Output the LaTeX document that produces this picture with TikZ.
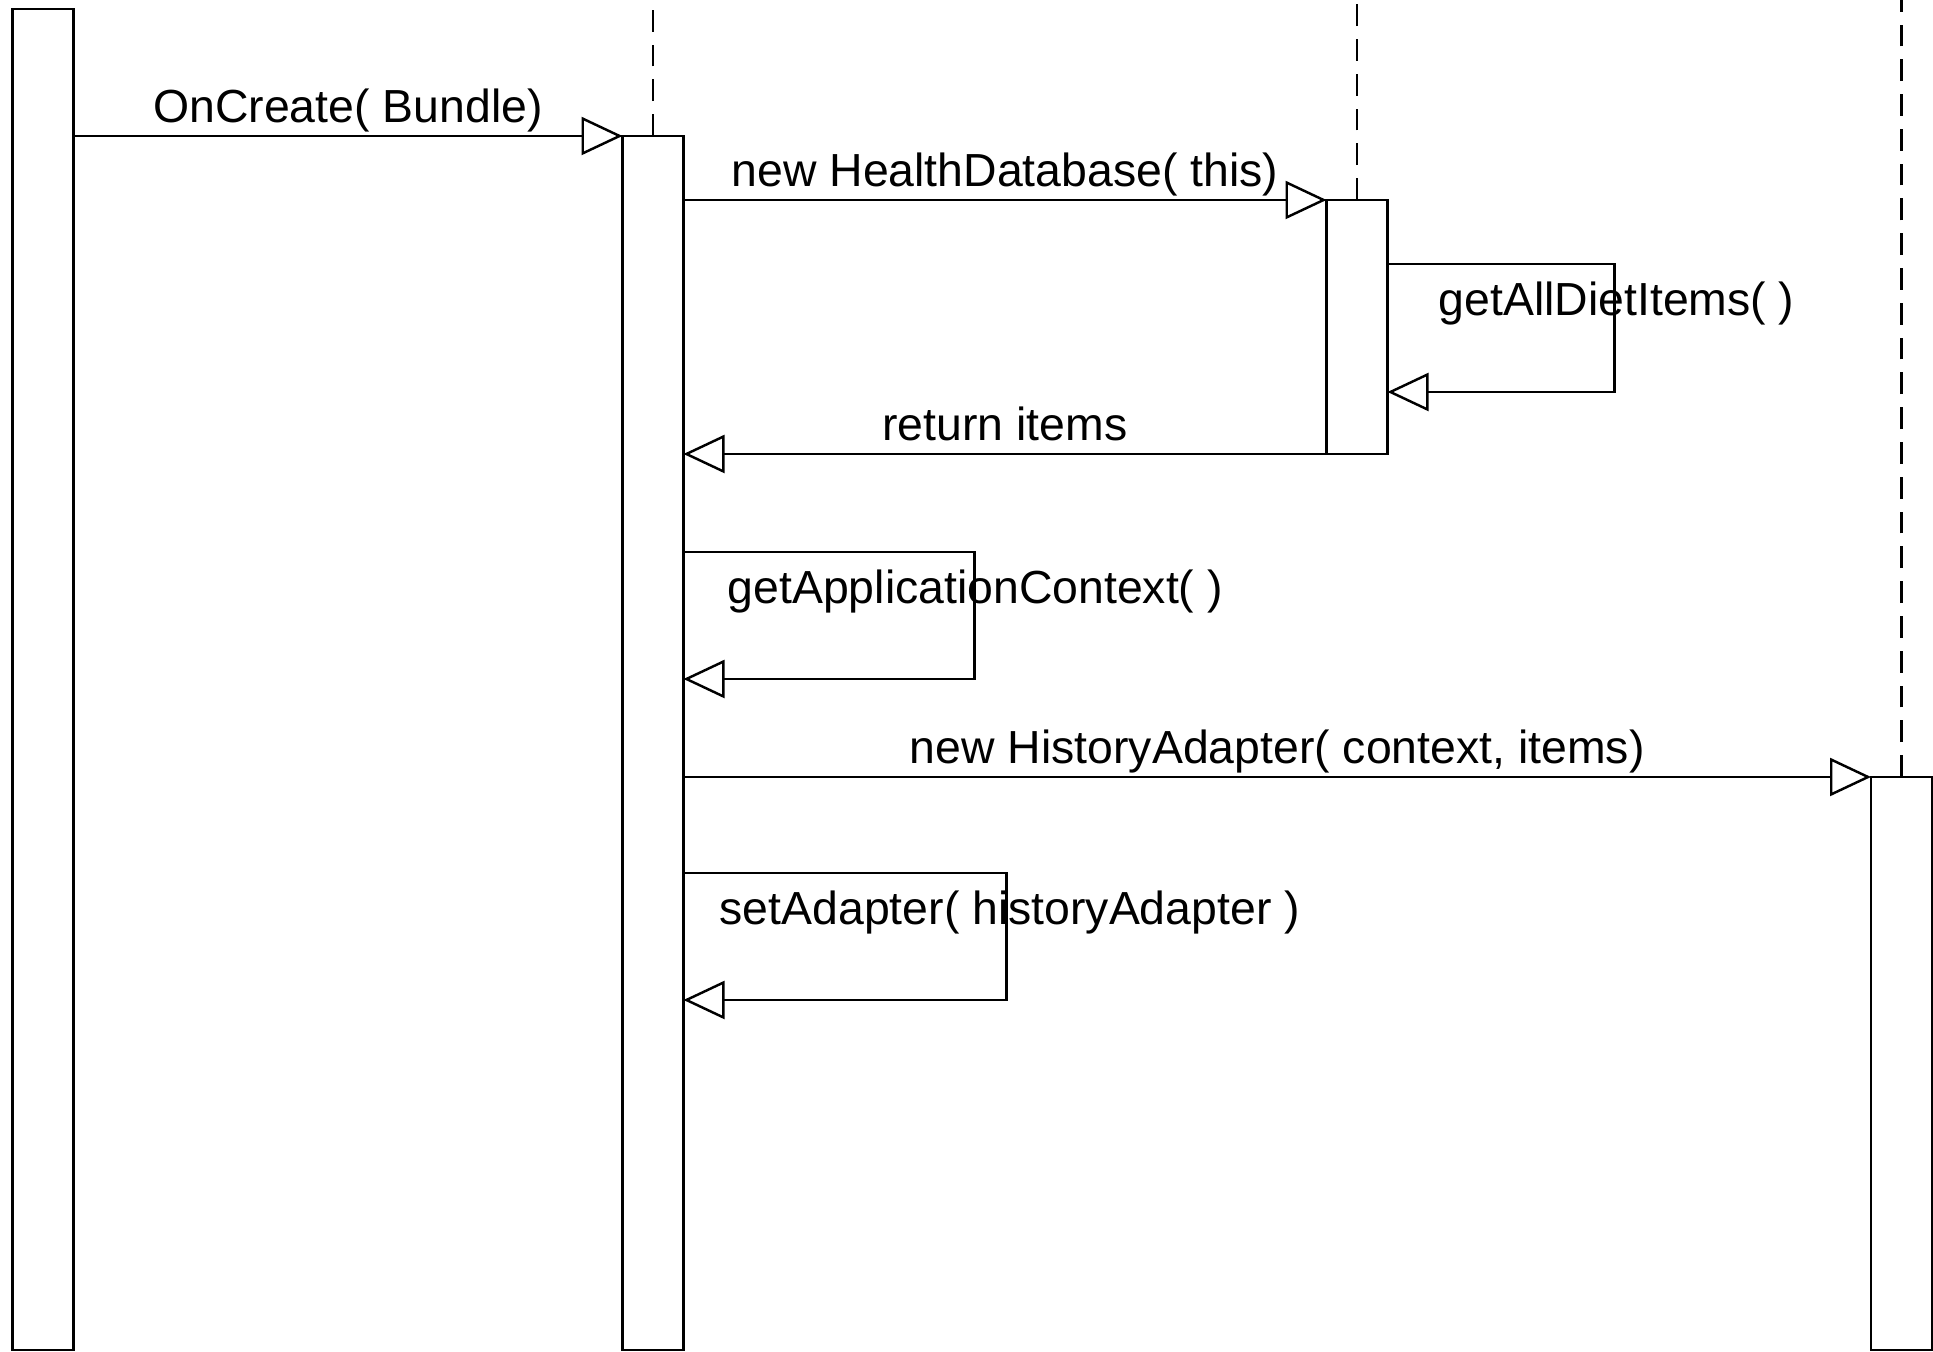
\documentclass[tikz,border=0pt]{standalone}
\usepackage{fontspec}
\setmainfont{Liberation Sans}
\usetikzlibrary{arrows.meta, calc}
\tikzset{msg labels/.style={font=\fontsize{13.2}{15}\selectfont}}
\tikzset{bar/.style={draw,rectangle,minimum width=0.61cm,inner sep=0pt,outer sep=0pt}}
\tikzset{lifeline/.style={dash pattern=on 6.2pt off 3.7pt}}
\tikzset{msg/.style={-{Triangle[open,length=0.41cm,width=0.38cm]}}}
\tikzset{call label/.style={anchor=base,yshift=0.13cm,inner sep=0pt}}
\tikzset{loop label/.style={anchor=base west,inner sep=0pt}}

\begin{document}
\begin{tikzpicture}[line width=0.7pt, every node/.style={msg labels}]
                    \useasboundingbox (0,0) rectangle (19.33,-13.52);
                    %\draw[help lines] (0,0) grid (19,-13);

                    \node[bar, minimum height=13.41cm] at (0.43,-6.795) (Activity){};
                    \node[bar, minimum height=12.14cm] at (6.53,-7.43) (History){};
                    \node[bar, minimum height=2.54cm] at (13.57,-3.27) (Database){};
                    \node[bar, minimum height=5.73cm] at (19.015,-10.635) (Adapter){};

                    \draw[lifeline] (History.north) -- (History.north |- 0,0);
                    \draw[lifeline] (Database.north) -- (Database.north |- 0,0);
                    \draw[lifeline] (Adapter.north) -- (Adapter.north |- 0,0);

                    \draw[msg] (Activity.east |- History.north west) -- node[call label] {OnCreate( Bundle)} (History.north west);
                    \draw[msg] (History.east |- Database.north west) -- node[call label] {new HealthDatabase( this)} (Database.north west);

                    \draw[msg] ([yshift=-0.64cm]Database.north east) -- ++(2.27,0) |- ([yshift=-1.92cm]Database.north east);
                    \node[loop label] at ([xshift=0.5cm,yshift=-1.16cm]Database.north east) (getItems) {getAllDietItems( )};

                    \draw[msg] (Database.south west) -- node[call label] {return items} (Database.south west -| History.east);

                    \draw[msg] ([yshift=-4.16cm]History.north east) -- ++(2.91,0) |- ([yshift=-5.43cm]History.north east);
                    \node[loop label] at ([xshift=0.43cm,yshift=-4.68cm]History.north east) (getContext) {getApplicationContext( )};

                    \draw[msg] (History.east |- Adapter.north west) -- node[call label] {new HistoryAdapter( context, items)} (Adapter.north west);

                    \draw[msg] ([yshift=-7.37cm]History.north east) -- ++(3.23,0) |- ([yshift=-8.64cm]History.north east);
                    \node[loop label] at ([xshift=0.35cm,yshift=-7.89cm]History.north east) (setAdapter) {setAdapter( historyAdapter )};

                \end{tikzpicture}
\end{document}
